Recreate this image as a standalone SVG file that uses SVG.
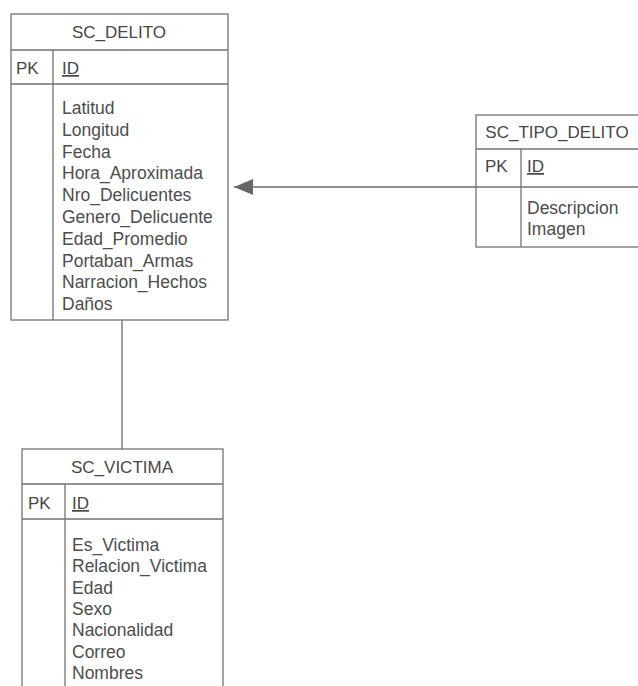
<svg xmlns="http://www.w3.org/2000/svg" width="638" height="686" viewBox="0 0 638 686">
  <style>
    .box { fill: #ffffff; stroke: #727272; stroke-width: 1.3; }
    .sep { stroke: #727272; stroke-width: 1.3; fill: none; }
    .title { font-family: "Liberation Sans", Arial, sans-serif; font-size: 17px; fill: #474747; text-anchor: middle; }
    .txt { font-family: "Liberation Sans", Arial, sans-serif; font-size: 17.5px; fill: #4d4d4d; }
    .key { font-family: "Liberation Sans", Arial, sans-serif; font-size: 17px; fill: #474747; }
    .pk { text-decoration: underline; }
    .conn { stroke: #6a6a6a; stroke-width: 1.3; fill: none; }
  </style>
  <defs>
    <marker id="arrow" markerUnits="userSpaceOnUse" markerWidth="20" markerHeight="18" refX="19" refY="8.5" orient="auto">
      <path d="M0,0.5 L19,8.5 L0,16.5 Z" fill="#666"/>
    </marker>
  </defs>
  <rect width="638" height="686" fill="#ffffff"/>

  <!-- relationships -->
  <g id="connectors">
    <line class="conn" x1="476" y1="187" x2="234" y2="187" marker-end="url(#arrow)"/>
    <line class="conn" x1="122" y1="320" x2="122" y2="449"/>
  </g>

  <!-- SC_DELITO -->
  <g id="sc_delito">
    <rect class="box" x="11" y="14" width="217" height="306"/>
    <line class="sep" x1="11" y1="50" x2="228" y2="50"/>
    <line class="sep" x1="11" y1="84" x2="228" y2="84"/>
    <line class="sep" x1="53" y1="50" x2="53" y2="320"/>
    <text class="title" x="119" y="38">SC_DELITO</text>
    <text class="key" x="16" y="74">PK</text>
    <text class="key pk" x="62" y="74">ID</text>
    <text class="txt" x="62" y="114">Latitud</text>
    <text class="txt" x="62" y="135.8">Longitud</text>
    <text class="txt" x="62" y="157.6">Fecha</text>
    <text class="txt" x="62" y="179.4">Hora_Aproximada</text>
    <text class="txt" x="62" y="201.2">Nro_Delicuentes</text>
    <text class="txt" x="62" y="223">Genero_Delicuente</text>
    <text class="txt" x="62" y="244.8">Edad_Promedio</text>
    <text class="txt" x="62" y="266.6">Portaban_Armas</text>
    <text class="txt" x="62" y="288.4">Narracion_Hechos</text>
    <text class="txt" x="62" y="310.2">Daños</text>
  </g>

  <!-- SC_TIPO_DELITO -->
  <g id="sc_tipo_delito">
    <rect class="box" x="476" y="115" width="180" height="132"/>
    <line class="sep" x1="476" y1="149" x2="656" y2="149"/>
    <line class="sep" x1="476" y1="187" x2="656" y2="187"/>
    <line class="sep" x1="521" y1="149" x2="521" y2="247"/>
    <text class="title" x="557" y="138">SC_TIPO_DELITO</text>
    <text class="key" x="485" y="172">PK</text>
    <text class="key pk" x="527" y="172">ID</text>
    <text class="txt" x="527" y="214">Descripcion</text>
    <text class="txt" x="527" y="235">Imagen</text>
  </g>

  <!-- SC_VICTIMA -->
  <g id="sc_victima">
    <rect class="box" x="22" y="449" width="201" height="260"/>
    <line class="sep" x1="22" y1="484" x2="223" y2="484"/>
    <line class="sep" x1="22" y1="519" x2="223" y2="519"/>
    <line class="sep" x1="65" y1="484" x2="65" y2="709"/>
    <text class="title" x="122" y="473">SC_VICTIMA</text>
    <text class="key" x="28" y="509">PK</text>
    <text class="key pk" x="72" y="509">ID</text>
    <text class="txt" x="72" y="551">Es_Victima</text>
    <text class="txt" x="72" y="572.3">Relacion_Victima</text>
    <text class="txt" x="72" y="593.6">Edad</text>
    <text class="txt" x="72" y="614.9">Sexo</text>
    <text class="txt" x="72" y="636.2">Nacionalidad</text>
    <text class="txt" x="72" y="657.5">Correo</text>
    <text class="txt" x="72" y="678.8">Nombres</text>
  </g>
</svg>
